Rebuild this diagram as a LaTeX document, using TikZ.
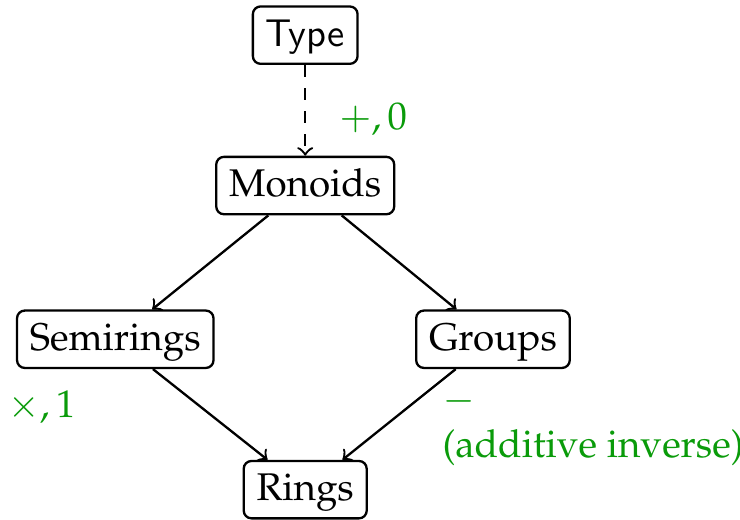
\documentclass[tikz,border=0pt]{standalone}
\usepackage[T1]{fontenc}
\usepackage{mathpazo}
\usepackage{tikz}
\usetikzlibrary{positioning}
\definecolor{opgreen}{RGB}{10,155,10}
\newcommand{\typesf}[1]{{\fontencoding{TU}\fontfamily{lmss}\selectfont #1}}
\tikzset{
	structbox/.style={draw, semithick, rounded corners=2pt, inner sep=3.33pt, text height=1.5ex, text depth=.25ex},
	oplabel/.style={color=opgreen, inner sep=0pt, anchor=base west},
}

\begin{document}
\begin{tikzpicture}[semithick]
		%%%%% START %%%%%
		\useasboundingbox (0, 0) rectangle (6.74, -4.73);
		
		\node[structbox] (type) at (2.78, -0.32) {\typesf{Type}};
		\node[structbox] (monoids) at (2.78, -1.69) {Monoids};
		\node[structbox] (semirings) at (1.05, -3.09) {Semirings};
		\node[structbox] (groups) at (4.49, -3.09) {Groups};
		\node[structbox] (rings) at (2.78, -4.46) {Rings};
		
		\draw[->, dashed] (type) -- (monoids);
		\draw[->] (monoids) -- (semirings);
		\draw[->] (monoids) -- (groups);
		\draw[->] (semirings) -- (rings);
		\draw[->] (groups) -- (rings);
		
		% operations added along the way
		\node[oplabel] (addop) at (3.08, -1.18) {$+,0$};
		\node[oplabel] (mulop) at (0.06, -3.80) {$\times,1$};
		\node[oplabel, align=left] (negop) at (4.02, -4.17) {$-$\\(additive inverse)};
		
		%%%%% END %%%%%
	\end{tikzpicture}
\end{document}
